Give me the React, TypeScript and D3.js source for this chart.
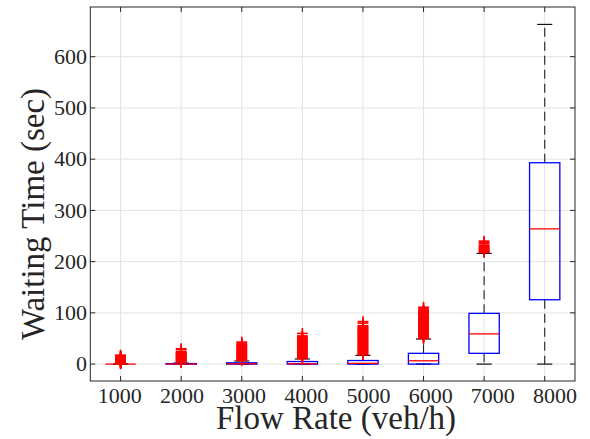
import React from "react";
import * as d3 from "d3";

// Flow-rate groups (veh/h)
const categories = ["1000", "2000", "3000", "4000", "5000", "6000", "7000", "8000"];

// Box statistics per group (seconds)
const q1Values = [0, 0, 0, 0, 0, 0, 21, 125.6];
const medianValues = [0, 0, 0.5, 0.5, 1.5, 6.5, 59, 264];
const q3Values = [0, 1, 2.5, 5, 7, 21, 99, 393];
const whiskerLow = [0, 0, 0, 0, 0, 0, 0, 0];
const whiskerHigh = [0, 2, 6, 10, 17, 49, 216, 663];

// Outlying waiting times per group (seconds)
const outliers1000 = [0.5, 1.5, 2.5, 3, 4, 5, 6, 7, 8, 9, 10, 11, 12, 13, 14, 15, 16, 17.5];
const outliers2000 = [3, 4, 5, 6, 7, 8, 9, 10, 11, 12, 13, 14, 15, 16, 17, 18, 19, 20, 21, 22, 23, 24, 28, 30];
const outliers3000 = [7, 8.5, 10, 11.5, 13, 14.5, 16, 17.5, 19, 20.5, 22, 23.5, 25, 26.5, 28, 29.5, 31, 32.5, 34, 35.5, 37, 38.5, 41, 43];
const outliers4000 = [11, 12.5, 14, 15.5, 17, 18.5, 20, 21.5, 23, 24.5, 26, 27.5, 29, 30.5, 32, 33.5, 35, 36.5, 38, 39.5, 41, 42.5, 44, 45.5, 47, 48.5, 50, 51.5, 53, 55, 60];
const outliers5000 = [18, 19.5, 21, 22.5, 24, 25.5, 27, 28.5, 30, 31.5, 33, 34.5, 36, 37.5, 39, 40.5, 42, 43.5, 45, 46.5, 48, 49.5, 51, 52.5, 54, 55.5, 57, 58.5, 60, 61.5, 63, 64.5, 66, 67.5, 69, 70.5, 72, 73.5, 75, 80, 83];
const outliers6000 = [50, 51.5, 53, 54.5, 56, 57.5, 59, 60.5, 62, 63.5, 65, 66.5, 68, 69.5, 71, 72.5, 74, 75.5, 77, 78.5, 80, 81.5, 83, 84.5, 86, 87.5, 89, 90.5, 92, 93.5, 95, 96.5, 98, 99.5, 101, 102.5, 104, 105.5, 108, 111];
const outliers7000 = [218, 219.5, 221, 222.5, 224, 225.5, 227, 228.5, 230, 232, 235, 238, 240];
const outliers8000: number[] = [];
const outlierGroups = [outliers1000, outliers2000, outliers3000, outliers4000, outliers5000, outliers6000, outliers7000, outliers8000];

// Axis ticks
const yTicks = [0, 100, 200, 300, 400, 500, 600];

const W = 590;
const H = 439;
const plot = { left: 90.3, right: 575, top: 7, bottom: 381 };
const FONT = "'Liberation Serif', 'Times New Roman', serif";
const AXIS = "#262626";

export default function App() {
  const positions = categories.map((_, i) => i + 1);
  const x = d3.scaleLinear().domain([0.5, categories.length + 0.5]).range([plot.left, plot.right]);
  const y = d3.scaleLinear().domain([-33, 697]).range([plot.bottom, plot.top]);
  // tick labels are laid out slightly wider than the category ticks
  const xLabel = d3.scalePoint<string>().domain(categories).range([119.7, 555]);

  const boxHalf = x(1.25) - x(1);
  const capHalf = x(1.125) - x(1);
  const mk = 5.4;
  const tickLen = 5;

  return (
    <svg width={W} height={H} style={{ position: "absolute", left: 0, top: 0, background: "#fff" }}>
      <rect x={0} y={0} width={W} height={H} fill="#fff" />
      {/* grid */}
      <g stroke="#e3e3e3" strokeWidth={1}>
        {yTicks.map((t) => (
          <line key={"gy" + t} x1={plot.left} x2={plot.right} y1={y(t)} y2={y(t)} />
        ))}
        {positions.map((p) => (
          <line key={"gx" + p} x1={x(p)} x2={x(p)} y1={plot.top} y2={plot.bottom} />
        ))}
      </g>

      {/* boxes */}
      {positions.map((p, i) => {
        const cx = x(p);
        const q1 = y(q1Values[i]);
        const q3 = y(q3Values[i]);
        const lo = y(whiskerLow[i]);
        const hi = y(whiskerHigh[i]);
        return (
          <g key={"b" + p}>
            <line x1={cx} x2={cx} y1={q3} y2={hi} stroke="#222" strokeWidth={1.1} strokeDasharray="9,5" />
            <line x1={cx} x2={cx} y1={q1} y2={lo} stroke="#222" strokeWidth={1.1} strokeDasharray="9,5" />
            <line x1={cx - capHalf} x2={cx + capHalf} y1={hi} y2={hi} stroke="#111" strokeWidth={1.2} />
            <line x1={cx - capHalf} x2={cx + capHalf} y1={lo} y2={lo} stroke="#111" strokeWidth={1.2} />
            <rect x={cx - boxHalf} y={q3} width={boxHalf * 2} height={Math.max(0, q1 - q3)} fill="none" stroke="#0000ff" strokeWidth={1.3} />
            <line x1={cx - boxHalf} x2={cx + boxHalf} y1={y(medianValues[i])} y2={y(medianValues[i])} stroke="#ff0000" strokeWidth={1.3} />
            <g stroke="#ff0000" strokeWidth={1.6}>
              {outlierGroups[i].map((v, j) => (
                <g key={j}>
                  <line x1={cx - mk} x2={cx + mk} y1={y(v)} y2={y(v)} />
                  <line x1={cx} x2={cx} y1={y(v) - mk} y2={y(v) + mk} />
                </g>
              ))}
            </g>
          </g>
        );
      })}

      {/* axes frame and ticks */}
      <rect x={plot.left} y={plot.top} width={plot.right - plot.left} height={plot.bottom - plot.top} fill="none" stroke={AXIS} strokeWidth={1} />
      <g stroke={AXIS} strokeWidth={1}>
        {yTicks.map((t) => (
          <g key={"ty" + t}>
            <line x1={plot.left} x2={plot.left + tickLen} y1={y(t)} y2={y(t)} />
            <line x1={plot.right} x2={plot.right - tickLen} y1={y(t)} y2={y(t)} />
          </g>
        ))}
        {positions.map((p) => (
          <g key={"tx" + p}>
            <line x1={x(p)} x2={x(p)} y1={plot.bottom} y2={plot.bottom - tickLen} />
            <line x1={x(p)} x2={x(p)} y1={plot.top} y2={plot.top + tickLen} />
          </g>
        ))}
      </g>

      {/* tick labels */}
      <g fontFamily={FONT} fontSize={22} fill={AXIS}>
        {yTicks.map((t) => (
          <text key={"ly" + t} x={87} y={y(t)} dy="0.33em" textAnchor="end">{t}</text>
        ))}
        {categories.map((c) => (
          <text key={"lx" + c} x={xLabel(c)} y={403} textAnchor="middle">{c}</text>
        ))}
      </g>

      {/* axis titles */}
      <text x={336} y={429} textAnchor="middle" fontFamily={FONT} fontSize={33} fill={AXIS}>Flow Rate (veh/h)</text>
      <text transform="translate(44,214) rotate(-90)" textAnchor="middle" fontFamily={FONT} fontSize={33} fill={AXIS}>Waiting Time (sec)</text>
    </svg>
  );
}
